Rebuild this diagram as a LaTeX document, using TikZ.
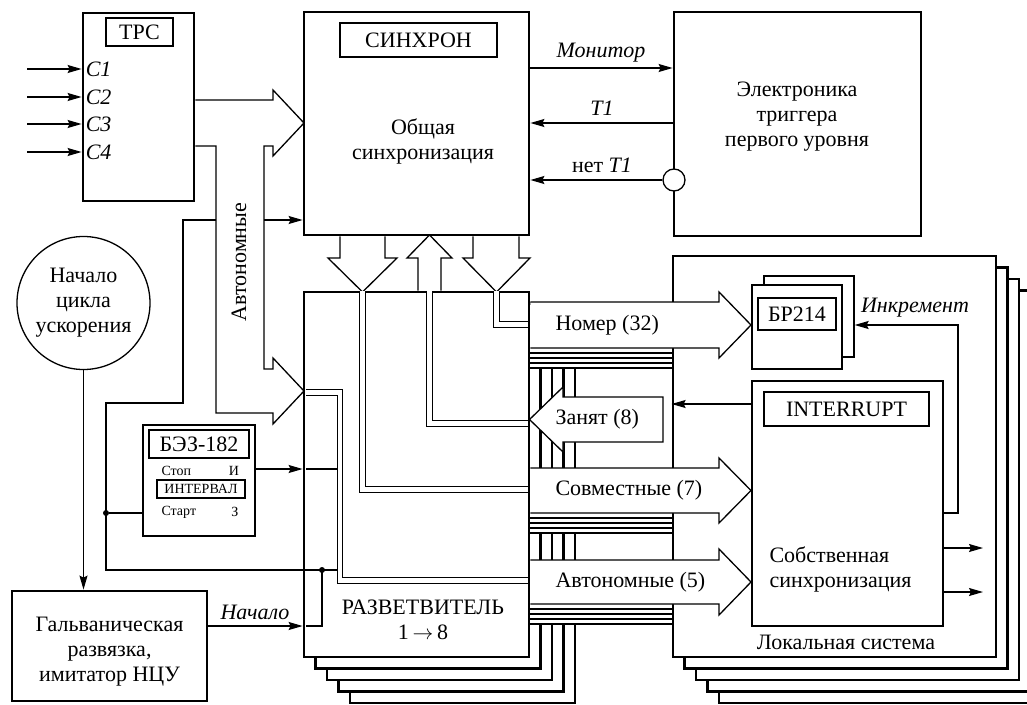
\documentclass[tikz,border=0pt]{standalone}
\usepackage{fontspec}
\setmainfont{Liberation Serif}
\usetikzlibrary{arrows.meta,positioning}

\newcommand\mainsize{\fontsize{22}{25}\selectfont}
\tikzset{
  box/.style={draw, line width=2.8pt, fill=white, inner sep=0pt},
  frame/.style={draw, line width=1.3pt, fill=white, inner sep=0pt},
  tag/.style={draw, line width=1.3pt, inner sep=0pt},
  wire/.style={line width=1.3pt},
  sig/.style={wire, -{Stealth[length=14pt,width=8pt,inset=2pt]}},
  bus/.style={line width=1.3pt, fill=white},
  pair/.style={double, line width=1.1pt, double distance=4.4pt},
  dot/.style={circle, fill, inner sep=0pt, minimum size=6pt},
  small/.style={font=\fontsize{14}{16}\selectfont},
}

\begin{document}
\begin{tikzpicture}[x=1pt, y=-1pt, font=\mainsize]
\clip (0,0) rectangle (1027,704);
\fill[white] (0,0) rectangle (1027,704);

% local systems
\foreach \k in {4,3,2,1}
  \draw[line width=2.8pt, fill=white] (673+11.5*\k,256+11.5*\k) rectangle (996+11.5*\k,657+11.5*\k);
\node[box, minimum width=323pt, minimum height=401pt] (loc) at (834.5,456.5) {};
\node (loclbl) at (846,642) {Локальная система};

% splitter copies
\foreach \k in {4,3,2,1}
  \draw[line width=2.8pt, fill=white] (304+11.5*\k,292+11.5*\k) rectangle (529+11.5*\k,657+11.5*\k);

% bus copies
\foreach \ya/\yb in {302/348, 468/513, 560/604}
  \foreach \k in {4,3,2,1} {
    \fill[white] (531,\ya+5*\k) rectangle (671.5,\yb+5*\k);
    \draw[wire] (529,\yb+5*\k) -- (673,\yb+5*\k);
  }

\node[box, minimum width=225pt, minimum height=365pt] (split) at (416.5,474.5) {};
\node[align=center] (splitlbl) at (423,620) {РАЗВЕТВИТЕЛЬ\\1\,$\rightarrow$\,8};

% buses to the local systems
\draw[bus] (530.4,302) -- (719,302) -- (719,292) -- (751,325) -- (719,358) -- (719,348) -- (530.4,348);
\node[anchor=west] (nomer) at (552,325) {Номер (32)};
\draw[bus] (530.4,468) -- (719,468) -- (719,458) -- (751,490.5) -- (719,523) -- (719,513) -- (530.4,513);
\node[anchor=west] (sovm) at (552,490.5) {Совместные (7)};
\draw[bus] (530.4,560) -- (719,560) -- (719,549) -- (751,582) -- (719,615) -- (719,604) -- (530.4,604);
\node[anchor=west] (auton) at (552,582) {Автономные (5)};
\draw[bus] (529.5,419.5) -- (563,387) -- (563,397) -- (663,397) -- (663,442) -- (563,442) -- (563,452) -- cycle;
\node[anchor=west] (busy) at (552,419.5) {Занят (8)};

% BR214 and INTERRUPT
\node[frame, minimum width=90pt, minimum height=81pt] (brb) at (809,316.5) {};
\node[frame, minimum width=90pt, minimum height=84pt] (br) at (797,327) {};
\node[tag, minimum width=78pt, minimum height=32pt] (brt) at (797,314) {БР214};
\node[frame, minimum width=191pt, minimum height=245pt] (intr) at (847.5,503.5) {};
\node[tag, minimum width=165pt, minimum height=34pt] (intrt) at (846.5,409) {INTERRUPT};
\node[anchor=west, align=left] (own) at (766,569.5) {Собственная\\синхронизация};
\draw[sig] (intr.east |- 0,513) -| (958,325) -- (brb.east |- 0,325);
\node[font=\mainsize\itshape] (inclbl) at (915,308) {Инкремент};
\draw[sig] (intr.west |- 0,404) -- (loc.west |- 0,404);
\draw[sig] (intr.east |- 0,548) -- (983,548);
\draw[sig] (intr.east |- 0,592) -- (983,592);

% sync and trigger
\node[box, minimum width=225pt, minimum height=223pt] (sync) at (416.5,123.5) {};
\node[tag, minimum width=157pt, minimum height=34pt] (synct) at (418.5,40) {СИНХРОН};
\node[align=center] (synctxt) at (423,141) {Общая\\синхронизация};
\node[box, minimum width=247pt, minimum height=224pt] (trig) at (797.5,124) {};
\node[align=center] (trigtxt) at (797,117) {Электроника\\триггера\\первого уровня};
\draw[sig] (sync.east |- 0,68) -- (trig.west |- 0,68);
\node[font=\mainsize\itshape] (monlbl) at (601,53) {Монитор};
\draw[sig] (trig.west |- 0,123) -- (sync.east |- 0,123);
\node[font=\mainsize\itshape] (t1lbl) at (602,108) {T1};
\node[circle, draw, fill=white, line width=1.3pt, minimum size=22pt, inner sep=0pt] (inv) at (674,180) {};
\draw[sig] (inv.west) -- (sync.east |- inv.west);
\node (not1) at (602,165) {нет \textit{T1}};

% arrows between sync and splitter
\draw[bus] (340,236.4) -- (340,258) -- (328,258) -- (362.5,292) -- (397,258) -- (385,258) -- (385,236.4);
\draw[bus] (418,290.6) -- (418,258) -- (407,258) -- (429.5,235) -- (452,258) -- (441,258) -- (441,290.6);
\draw[bus] (473,236.4) -- (473,258) -- (463,258) -- (496.5,292) -- (530,258) -- (519,258) -- (519,236.4);

% lines inside the splitter
\draw[pair] (362.5,291) -- (362.5,489.5) -- (528,489.5);
\draw[pair] (429.5,291) -- (429.5,423.5) -- (528,423.5);
\draw[pair] (496.5,291) -- (496.5,324.5) -- (528,324.5);
\draw[pair] (305.5,392.5) -- (340,392.5) -- (340,580.5) -- (528,580.5);

% TRC
\node[box, minimum width=111pt, minimum height=188pt] (trc) at (138.5,107) {};
\node[tag, minimum width=67pt, minimum height=28pt] (trct) at (139.5,32) {ТРС};
\foreach \y/\n in {69/1, 97/2, 124/3, 152/4} {
  \coordinate (in\n) at (27,\y);
  \draw[sig] (in\n) -- (trc.west |- in\n);
  \node[anchor=west, font=\mainsize\itshape, inner sep=4pt] (c\n) at (trc.west |- in\n) {C\n};
}
\draw[bus] (195.4,100) -- (273,100) -- (273,90) -- (304,123) -- (273,156) -- (273,146) -- (264,146)
  -- (264,369) -- (273,369) -- (273,358) -- (304,391) -- (273,424) -- (273,413) -- (216,413)
  -- (216,146) -- (195.4,146);
\node[rotate=90] (autolbl) at (239,262) {Автономные};

% start of cycle, galvanic isolation
\node[circle, draw, line width=1.3pt, minimum size=133pt, inner sep=0pt, align=center] (start) at (83.5,303) {Начало\\цикла\\ускорения};
\node[box, minimum width=195pt, minimum height=110pt] (galv) at (109.5,646) {};
\node[align=center] (galvtxt) at (109.5,652) {Гальваническая\\развязка,\\имитатор НЦУ};
\draw[sig] (start.south) -- (start.south |- galv.north);
\draw[sig] (galv.east |- 0,626) -- (split.west |- 0,626);
\node[font=\mainsize\itshape] (nachlbl) at (255,612) {Начало};

% BEZ-182
\node[box, minimum width=112pt, minimum height=111pt] (bez) at (199,480.5) {};
\node[tag, minimum width=100pt, minimum height=28pt] (bezt) at (199,444) {БЭЗ-182};
\node[small, anchor=west] (stop) at (158,471) {Стоп};
\node[small] (iout) at (234,471) {И};
\node[tag, small, minimum width=88pt, minimum height=18pt] (intv) at (201,489) {ИНТЕРВАЛ};
\node[small, anchor=west] (startl) at (158,512) {Старт};
\node[small] (zin) at (235,512) {З};

% wires
\node[dot] (d1) at (106,513) {};
\node[dot] (d2) at (322,570) {};
\draw[sig] (264,220) -- (sync.west |- 0,220);
\draw[wire] (216,220) -- (183,220) -- (183,403) -- (106,403) -- (106,570) -- (337,570);
\draw[wire] (d1) -- (bez.west |- d1);
\draw[sig] (bez.east |- 0,469) -- (split.west |- 0,469);
\draw[wire] (306,469) -- (337,469);
\draw[wire] (306,626) -- (322,626) -- (d2.center);
\end{tikzpicture}
\end{document}
